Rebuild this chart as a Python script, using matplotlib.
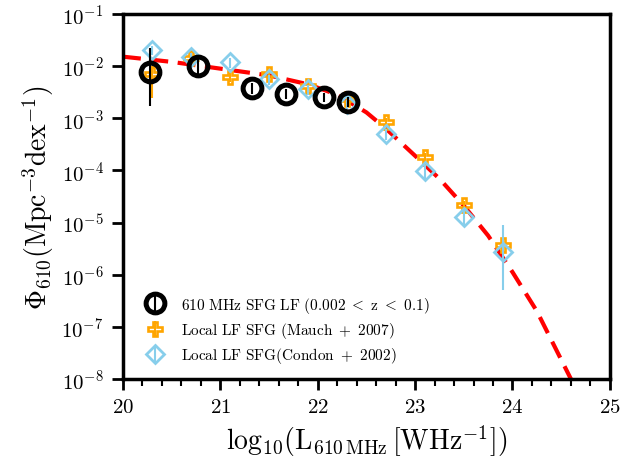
import matplotlib
matplotlib.use("Agg")
import matplotlib.pyplot as plt
from matplotlib.ticker import MultipleLocator, NullLocator, LogLocator

plt.rcParams['font.family'] = 'serif'
plt.rcParams['font.serif'] = ['cmr10']
plt.rcParams['mathtext.fontset'] = 'cm'
plt.rcParams['axes.formatter.use_mathtext'] = True
plt.rcParams['axes.unicode_minus'] = False

# 610 MHz SFG luminosity function (this work)
lum610 = [20.28, 20.77, 21.32, 21.67, 22.06, 22.31]
phi610 = [7.6e-3, 1.02e-2, 3.76e-3, 2.92e-3, 2.5e-3, 2.03e-3]
phi610_lo = [5.9e-3, 3.3e-3, 0.8e-3, 0.6e-3, 0.5e-3, 0.4e-3]
phi610_hi = [1.44e-2, 3.6e-3, 0.9e-3, 0.7e-3, 0.6e-3, 0.5e-3]

# local LF, Mauch & Sadler 2007
lum_mauch = [20.3, 20.7, 21.1, 21.5, 21.9, 22.3, 22.7, 23.1, 23.5, 23.9]
phi_mauch = [7.1e-3, 1.4e-2, 6.1e-3, 7.1e-3, 4.2e-3, 2.35e-3, 8.4e-4, 1.78e-4, 2.17e-5, 3.7e-6]
err_mauch_lo = [4.7e-3, 2.5e-3, 1.2e-3, 1.3e-3, 0.8e-3, 0.45e-3, 1.6e-4, 3.4e-5, 4.5e-6, 0.9e-6]
err_mauch_hi = [3.0e-3, 2.5e-3, 1.2e-3, 1.3e-3, 0.8e-3, 0.45e-3, 1.6e-4, 3.4e-5, 4.5e-6, 0.9e-6]

# local LF, Condon et al. 2002
lum_condon = [20.3, 20.7, 21.1, 21.5, 21.9, 22.3, 22.7, 23.1, 23.5, 23.9]
phi_condon = [2.0e-2, 1.48e-2, 1.18e-2, 5.6e-3, 3.6e-3, 1.87e-3, 5.0e-4, 9.9e-5, 1.29e-5, 2.7e-6]
err_condon_lo = [4e-3, 3e-3, 2.5e-3, 1.2e-3, 0.8e-3, 0.4e-3, 1.2e-4, 3.0e-5, 4.5e-6, 2.2e-6]
err_condon_hi = [4e-3, 3e-3, 2.5e-3, 1.2e-3, 0.8e-3, 0.4e-3, 1.2e-4, 3.0e-5, 4.5e-6, 6.2e-6]

# fitted local LF (dashed red)
lum_fit = [20.0, 20.5, 21.0, 21.5, 21.9, 22.2, 22.5, 22.7, 23.0, 23.25, 23.5, 23.75, 24.0, 24.25, 24.6, 24.7]
phi_fit = [1.51e-2, 1.20e-2, 8.9e-3, 6.6e-3, 4.47e-3, 2.82e-3, 1.29e-3, 6.3e-4, 1.9e-4,
           6.9e-5, 2.1e-5, 5.6e-6, 1.12e-6, 2.0e-7, 1.0e-8, 4.0e-9]

fig = plt.figure(figsize=(6.44, 4.64), dpi=100)
ax = fig.add_axes([0.191, 0.181, 0.756, 0.787])

ax.plot(lum_fit, phi_fit, color='red', lw=3, dashes=(4.3, 2.3), zorder=1)

h_mauch = ax.errorbar(lum_mauch, phi_mauch, yerr=[err_mauch_lo, err_mauch_hi], fmt='P',
                      color='orange', mfc='none', mec='orange', ms=10.5, mew=1.9,
                      elinewidth=1.5, capsize=0, zorder=2)
h_condon = ax.errorbar(lum_condon, phi_condon, yerr=[err_condon_lo, err_condon_hi], fmt='D',
                       color='skyblue', mfc='none', mec='skyblue', ms=9, mew=2,
                       elinewidth=1.5, capsize=0, zorder=3)
h610 = ax.errorbar(lum610, phi610, yerr=[phi610_lo, phi610_hi], fmt='o',
                   color='black', mfc='none', mec='black', ms=13.5, mew=3.6,
                   elinewidth=1.5, capsize=0, zorder=4)

ax.set_yscale('log')
ax.set_xlim(20, 25)
ax.set_ylim(1e-8, 1e-1)
ax.xaxis.set_major_locator(MultipleLocator(1))
ax.xaxis.set_minor_locator(MultipleLocator(0.2))
ax.yaxis.set_major_locator(LogLocator(base=10, numticks=10))
ax.yaxis.set_minor_locator(NullLocator())

for sp in ax.spines.values():
    sp.set_linewidth(2.5)
ax.tick_params(which='major', direction='out', length=8, width=2, labelsize=15, pad=6)
ax.tick_params(which='minor', direction='out', length=5, width=1.5)

ax.set_xlabel(r'$\mathrm{log}_{10}(\mathrm{L_{610\,MHz}\,[WHz^{-1}]})$', fontsize=20)
ax.set_ylabel(r'$\Phi_{610}(\mathrm{Mpc^{-3}dex^{-1}})$', fontsize=20)

ax.legend([h610, h_mauch, h_condon],
          [r'$\mathrm{610\ MHz\ SFG\ LF\ (0.002\ <\ z\ <\ 0.1)}$',
           r'$\mathrm{Local\ LF\ SFG\ (Mauch\ +\ 2007)}$',
           r'$\mathrm{Local\ LF\ SFG(Condon\ +\ 2002)}$'],
          loc='lower left', bbox_to_anchor=(0.013, 0.0), frameon=False,
          fontsize=11, labelspacing=0.35, handletextpad=1.0, handlelength=1.5)

fig.savefig('out.png', dpi=100)
